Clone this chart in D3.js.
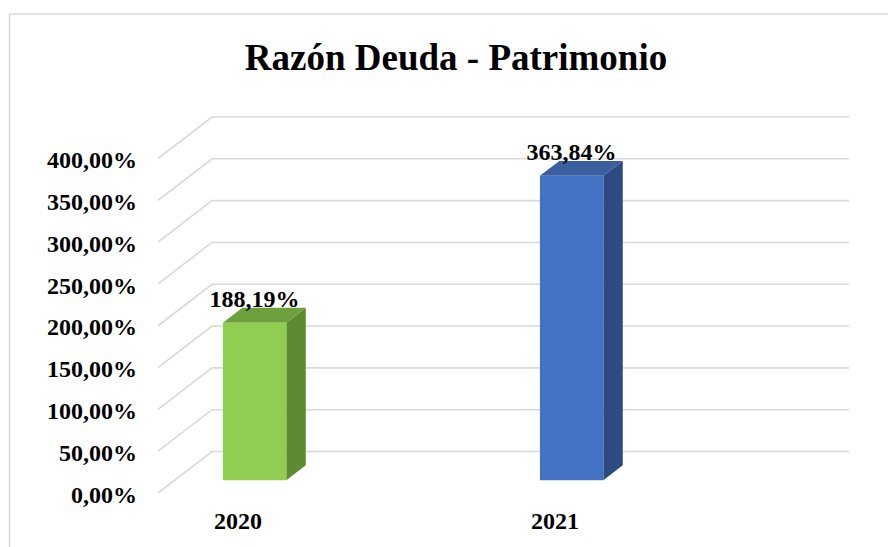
<!DOCTYPE html>
<html>
<head>
<meta charset="utf-8">
<script src="https://cdn.jsdelivr.net/npm/d3@7"></script>
<style>
    body{ margin:0; background:#ffffff; }
    svg text{ font-family:"Liberation Serif","Times New Roman",serif; font-weight:bold; fill:#000000; }
</style>
</head>
<body>
<div id="chart"></div>
<script>
var years = ["2020", "2021"];
var ratios = [188.19, 363.84];
var tickValues = [0, 50, 100, 150, 200, 250, 300, 350, 400];
var tickLabels = ["0,00%", "50,00%", "100,00%", "150,00%", "200,00%", "250,00%", "300,00%", "350,00%", "400,00%"];
var valueLabels = ["188,19%", "363,84%"];

var frontColors = ["#8fce50", "#4472c4"];
var sideColors = ["#5e8a32", "#2d4b82"];
var topColors = ["#6e9f3d", "#3a5f9f"];

var width = 888;
var height = 547;

//Oblique depth of the floor, in px
var depthX = 54;
var depthY = -41.5;
//Where the bars sit inside that depth (0 front, 1 back)
var barFront = 0.31;
var barBack = 0.67;

var svg = d3.select("#chart")
    .append("svg")
    .attr("width", width)
    .attr("height", height);

//Chart area border, it runs off the right and bottom of the picture
svg.append("rect")
    .attr("x", 9.5)
    .attr("y", 14)
    .attr("width", 900)
    .attr("height", 600)
    .style("fill", "#ffffff")
    .style("stroke", "#d9d9d9")
    .style("stroke-width", 1.5);

svg.append("text")
    .attr("x", 456)
    .attr("y", 70)
    .attr("text-anchor", "middle")
    .style("font-size", "37px")
    .text("Razón Deuda - Patrimonio");

//Scales for the front plane of the plot
var x = d3.scaleBand()
    .domain(years)
    .range([158, 792])
    .paddingInner(0.8)
    .paddingOuter(0.4)
    .align(0.19);

var y = d3.scaleLinear()
    .domain([0, 400])
    .range([493, 158.5]);

var plotRight = 795;

//Gridlines: a diagonal on the side wall and a line on the back wall
var grid = svg.append("g")
    .style("stroke", "#d9d9d9")
    .style("stroke-width", 1.6)
    .style("fill", "none");

grid.selectAll("path")
    .data(tickValues)
    .enter()
    .append("path")
    .attr("d", function(v){
        var p = d3.path();
        p.moveTo(158, y(v));
        p.lineTo(158 + depthX, y(v) + depthY);
        p.lineTo(plotRight + depthX, y(v) + depthY);
        return p.toString();
    });

svg.append("g")
    .selectAll("text")
    .data(tickValues)
    .enter()
    .append("text")
    .attr("x", 137)
    .attr("y", function(v){ return y(v) + 1; })
    .attr("dy", "0.36em")
    .attr("text-anchor", "end")
    .style("font-size", "24px")
    .text(function(v, i){ return tickLabels[i]; });

//Bars drawn as three faces: front, right side and top
var bars = svg.append("g")
    .selectAll("g")
    .data(years)
    .enter()
    .append("g");

function corner( year, value, side, depth ){
    var px = x(year) + (side ? x.bandwidth() : 0) + depth * depthX;
    var py = y(value) + depth * depthY;
    return [px, py];
}

bars.append("path")
    .attr("d", function(year, i){
        return d3.line()([
            corner(year, ratios[i], 1, barFront),
            corner(year, ratios[i], 1, barBack),
            corner(year, 0, 1, barBack),
            corner(year, 0, 1, barFront)
        ]) + "Z";
    })
    .style("fill", function(year, i){ return sideColors[i]; });

bars.append("path")
    .attr("d", function(year, i){
        return d3.line()([
            corner(year, ratios[i], 0, barFront),
            corner(year, ratios[i], 0, barBack),
            corner(year, ratios[i], 1, barBack),
            corner(year, ratios[i], 1, barFront)
        ]) + "Z";
    })
    .style("fill", function(year, i){ return topColors[i]; });

bars.append("path")
    .attr("d", function(year, i){
        return d3.line()([
            corner(year, ratios[i], 0, barFront),
            corner(year, ratios[i], 1, barFront),
            corner(year, 0, 1, barFront),
            corner(year, 0, 0, barFront)
        ]) + "Z";
    })
    .style("fill", function(year, i){ return frontColors[i]; });

//Value labels over each bar
bars.append("text")
    .attr("x", function(year){ return x(year) + x.bandwidth() / 2 + barFront * depthX; })
    .attr("y", function(year, i){ return y(ratios[i]) + barFront * depthY - 16; })
    .attr("text-anchor", "middle")
    .style("font-size", "24px")
    .text(function(year, i){ return valueLabels[i]; });

//Category labels under the floor
svg.append("g")
    .selectAll("text")
    .data(years)
    .enter()
    .append("text")
    .attr("x", function(year){ return x(year) + x.bandwidth() / 2; })
    .attr("y", 529)
    .attr("text-anchor", "middle")
    .style("font-size", "24px")
    .text(function(year){ return year; });
</script>
</body>
</html>
